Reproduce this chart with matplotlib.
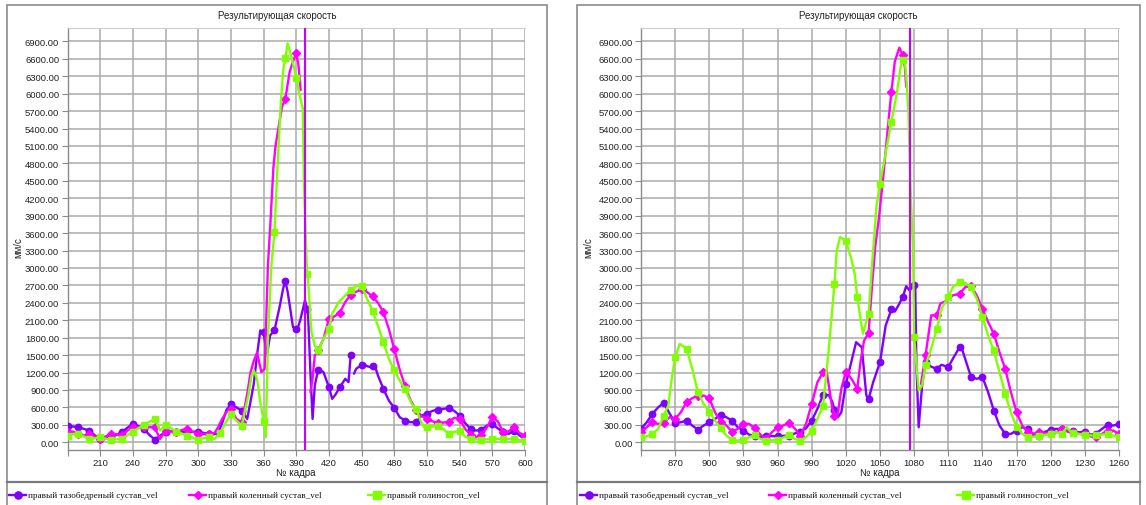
import numpy as np
import matplotlib
matplotlib.use("Agg")
import matplotlib.pyplot as plt
from matplotlib.lines import Line2D
from matplotlib.patches import Rectangle

nan = np.nan

# ---------------- data: left recording (frames 180..600) ----------------
left_hip_frames = [180, 185, 190, 195, 200, 205, 210, 215, 220, 225, 230, 235, 240, 245, 250, 255, 260, 265,
                   270, 275, 280, 285, 290, 295, 300, 305, 310, 315, 318, 322, 326, 330, 335, 340, 345, 348,
                   351, 354, 357, 360, 363, 366, 370, 375, 378, 380, 382, 384, 387, 390, 392, 394, 398, 400,
                   401, 403, 405, 407, 410, 413, 415, 420, 423, 426, 430, 435, 438, 440, 441, 443, 445, 450,
                   452, 455, 458, 460, 462, 465, 470, 475, 480, 485, 490, 495, 500, 505, 510, 515, 520, 525,
                   530, 535, 540, 545, 550, 555, 560, 565, 570, 575, 580, 585, 590, 595, 600]
left_hip_vel = [287, 270, 258, 230, 200, 120, 57, 70, 86, 130, 172, 250, 316, 280, 230, 130, 46, 110,
                184, 190, 184, 180, 172, 180, 184, 160, 143, 140, 150, 330, 560, 650, 600, 546, 402, 700,
                1006, 1500, 1925, 1896, 1494, 1839, 1925, 2356, 2650, 2770, 2600, 2356, 1982, 1954, 2000, 2126, 2442, 2300,
                2126, 1207, 402, 977, 1236, 1230, 1207, 948, 747, 820, 948, 1092, 1034, 1505, nan, 1180, 1264, 1330,
                1350, 1310, 1293, 1310, 1322, 1149, 919, 718, 590, 431, 374, 345, 345, 460, 489, 540, 563, 575,
                586, 540, 460, 330, 230, 201, 215, 287, 316, 240, 172, 144, 201, 115, 57]

left_knee_frames = [180, 185, 190, 195, 200, 205, 210, 215, 220, 225, 230, 235, 240, 245, 250, 255, 260, 265,
                    270, 275, 280, 285, 290, 295, 300, 305, 310, 315, 318, 322, 326, 330, 335, 340, 345, 348,
                    351, 354, 358, 361, 364, 366, 369, 371, 374, 377, 380, 382, 384, 387, 390, 392, 394, 395,
                    403, 405, 407, 410, 415, 420, 424, 430, 435, 440, 445, 450, 455, 460, 465, 470, 475, 480,
                    485, 490, 495, 500, 505, 510, 515, 520, 525, 530, 535, 540, 545, 550, 555, 560, 565, 570,
                    575, 580, 585, 590, 595, 600]
left_knee_vel = [172, 184, 150, 115, 143, 100, 57, 100, 143, 135, 126, 200, 258, 258, 258, 258, 258, 57,
                 201, 190, 184, 210, 230, 180, 143, 143, 143, 160, 250, 402, 520, 574, 402, 344, 832, 1200,
                 1400, 1540, 1207, 1264, 3046, 3677, 4723, 5100, 5450, 5780, 5907, 6150, 6378, 6550, 6694, 6493, 6062, nan,
                 860, 1100, 1494, 1580, 1781, 2126, 2155, 2230, 2413, 2540, 2590, 2632, 2586, 2510, 2400, 2241, 1950, 1600,
                 1250, 960, 720, 560, 450, 402, 360, 335, 340, 350, 420, 400, 230, 130, 90, 120, 258, 431,
                 360, 172, 190, 260, 160, 115]

left_ankle_frames = [180, 185, 190, 195, 200, 205, 210, 215, 220, 225, 230, 235, 240, 245, 250, 255, 260, 265,
                     270, 275, 280, 285, 290, 295, 300, 305, 310, 315, 320, 325, 330, 335, 340, 343, 346, 349,
                     351, 354, 357, 360, 362, 364, 367, 370, 373, 376, 378, 380, 382, 386, 390, 393, 396, 397,
                     399, 400, 401, 404, 407, 410, 415, 420, 423, 429, 435, 440, 445, 450, 455, 460, 465, 470,
                     475, 480, 485, 490, 496, 500, 504, 508, 510, 515, 520, 525, 530, 535, 540, 545, 550, 555,
                     560, 565, 570, 575, 580, 585, 590, 595, 600]
left_ankle_vel = [115, 143, 143, 100, 57, 70, 86, 60, 46, 50, 57, 120, 184, 240, 298, 350, 402, 201,
                  298, 240, 184, 150, 115, 80, 46, 70, 86, 57, 161, 330, 488, 373, 287, 550, 804, 1150,
                  1236, 1092, 690, 374, 86, 1781, 3000, 3620, 4826, 5889, 6400, 6608, 6866, 6608, 6274, 5976, 5746, 4500,
                  3400, 2900, 2747, 1896, 1666, 1580, 1781, 1954, 2212, 2413, 2528, 2615, 2689, 2689, 2471, 2260, 2000, 1724,
                  1437, 1236, 1063, 908, 661, 580, 374, 241, 255, 270, 287, 230, 140, 180, 190, 100, 57, 50,
                  46, 50, 57, 57, 57, 57, 57, 40, 29]

# ---------------- data: right recording (frames 840..1260) ----------------
right_hip_frames = [840, 845, 850, 855, 860, 865, 870, 875, 880, 885, 890, 895, 900, 905, 910, 915, 920, 925,
                    930, 935, 940, 945, 950, 955, 960, 965, 970, 975, 980, 985, 990, 995, 1000, 1005, 1008, 1010,
                    1013, 1016, 1020, 1024, 1029, 1034, 1038, 1040, 1044, 1050, 1055, 1060, 1063, 1066, 1070, 1073,
                    1076, 1080, 1081, 1082, 1084, 1087, 1090, 1095, 1100, 1104, 1110, 1114, 1120, 1122, 1130, 1135,
                    1140, 1145, 1150, 1155, 1160, 1165, 1170, 1175, 1180, 1185, 1190, 1195, 1200, 1205, 1210, 1215,
                    1220, 1225, 1230, 1235, 1240, 1245, 1250, 1255, 1260]
right_hip_vel = [230, 344, 488, 600, 677, 500, 333, 344, 373, 287, 218, 287, 344, 402, 476, 430, 373, 258,
                 201, 130, 115, 86, 115, 105, 103, 110, 115, 150, 184, 240, 373, 574, 815, 810, 700, 560,
                 430, 516, 1004, 1320, 1722, 1636, 804, 746, 1033, 1378, 2009, 2285, 2250, 2350, 2497, 2686,
                 2612, 2698, 2672, 1322, 258, 977, 1379, 1300, 1264, 1333, 1293, 1437, 1638, 1609, 1120, 1092,
                 1120, 862, 546, 287, 144, 144, 200, 258, 230, 115, 115, 180, 218, 230, 230, 201,
                 190, 172, 184, 130, 150, 230, 299, 287, 316]

right_knee_frames = [840, 845, 850, 855, 860, 865, 870, 875, 880, 885, 890, 895, 900, 905, 910, 915, 920, 925,
                     930, 935, 940, 945, 950, 955, 960, 965, 970, 975, 980, 985, 990, 995, 1000, 1003, 1008, 1010,
                     1013, 1016, 1020, 1025, 1030, 1033, 1036, 1040, 1043, 1046, 1049, 1053, 1056, 1060, 1063, 1067,
                     1070, 1072, 1073, 1074, 1086, 1090, 1095, 1100, 1103, 1109, 1114, 1120, 1125, 1130, 1135, 1140,
                     1145, 1150, 1155, 1160, 1165, 1170, 1175, 1180, 1185, 1190, 1195, 1200, 1205, 1210, 1215, 1220,
                     1225, 1230, 1235, 1240, 1245, 1250, 1255, 1260]
right_knee_vel = [184, 258, 344, 316, 333, 430, 402, 516, 689, 758, 804, 804, 758, 516, 356, 287, 184, 230,
                  316, 316, 241, 130, 57, 172, 258, 287, 333, 240, 115, 316, 660, 1033, 1205, 1234, 600, 459,
                  500, 918, 1217, 1090, 918, 1400, 1750, 1880, 2700, 3400, 3849, 4596, 5229, 6033, 6550, 6792,
                  6665, 6435, 6119, nan, 1005, 1494, 2184, 2184, 2385, 2442, 2528, 2557, 2672, 2689, 2528, 2299,
                  2069, 1867, 1551, 1264, 862, 517, 287, 172, 150, 172, 160, 155, 172, 230, 180, 172,
                  144, 144, 100, 86, 144, 201, 201, 144]

right_ankle_frames = [840, 845, 850, 855, 860, 864, 867, 870, 874, 877, 880, 885, 890, 895, 900, 905, 910, 915,
                      920, 925, 930, 935, 940, 945, 950, 955, 960, 965, 970, 975, 980, 985, 990, 995, 1000, 1005,
                      1010, 1012, 1015, 1020, 1025, 1028, 1030, 1034, 1035, 1040, 1043, 1047, 1050, 1053, 1060, 1065,
                      1068, 1070, 1072, 1073, 1075, 1076, 1077, 1079, 1080, 1084, 1087, 1090, 1094, 1100, 1104, 1110,
                      1114, 1120, 1125, 1130, 1135, 1140, 1145, 1150, 1155, 1160, 1165, 1170, 1175, 1180, 1188, 1190,
                      1200, 1205, 1210, 1214, 1218, 1220, 1230, 1237, 1240, 1250, 1260]
right_ankle_vel = [86, 100, 143, 230, 459, 631, 1090, 1463, 1693, 1650, 1607, 1262, 861, 660, 528, 373, 241, 115,
                   46, 29, 46, 86, 126, 57, 29, 35, 46, 80, 126, 57, 29, 86, 201, 402, 631, 1607,
                   2730, 3300, 3534, 3459, 3150, 2873, 2500, 1982, 1868, 2212, 3046, 4080, 4453, 4769, 5516, 6033,
                   6450, 6579, 6500, 6320, 5688, 4941, 4250, 3333, 1810, 891, 977, 1322, 1551, 1954, 2299, 2500,
                   2672, 2758, 2740, 2672, 2471, 2155, 1839, 1580, 1207, 833, 517, 259, 144, 86, 103, 110,
                   144, 172, 144, 258, 172, 160, 126, 115, 120, 144, 86]

# frame at which the vertical event marker is drawn on each recording
left_event_frame = 398
right_event_frame = 1076

series_names = ["правый тазобедреный сустав_vel", "правый коленный сустав_vel", "правый голиностоп_vel"]
series_colors = ["#7f00ff", "#ff00ff", "#80ff00"]
series_markers = ["o", "D", "s"]
series_msize = [4.6, 3.6, 4.8]

title_text = "Результирующая скорость"
xlabel_text = "№ кадра"
ylabel_text = "мм/с"

y_ticks = list(range(0, 7200, 300))

# ---------------- figure ----------------
W, H = 1146, 506
fig = plt.figure(figsize=(W / 100, H / 100), dpi=100)
fig.patch.set_facecolor("white")


def fx(px):
    return px / W


def fy(py):
    return 1 - py / H


FONT = ["Liberation Sans", "DejaVu Sans"]
SERIF = ["Liberation Serif", "DejaVu Serif"]
LW = 1.7


def panel(frame_l, frame_r, ax_l, ax_r, xlim, xticks, data, event_frame, legend_x):
    # outer frame of the panel and the separator above the legend
    fig.add_artist(Rectangle((fx(frame_l), fy(512)), fx(frame_r - frame_l), fy(6) - fy(512),
                             transform=fig.transFigure, fill=False, edgecolor="#8c8c8c", lw=1.2))
    fig.add_artist(Line2D([fx(frame_l), fx(frame_r)], [fy(483), fy(483)], transform=fig.transFigure,
                          color="#7a7a7a", lw=1.6))

    top, bottom = 29, 450.8
    ax = fig.add_axes([fx(ax_l), fy(bottom), fx(ax_r - ax_l), fy(top) - fy(bottom)])
    ax.set_xlim(*xlim)
    ax.set_ylim(-130, 7130)
    ax.set_xticks(xticks)
    ax.set_xticklabels(["" if t == xlim[0] else str(t) for t in xticks], fontsize=6.8, family=FONT)
    ax.set_yticks(y_ticks)
    ax.set_yticklabels([f"{v:.2f}" for v in y_ticks], fontsize=6.8, family=FONT)
    ax.tick_params(length=4, width=0.8, color="#8a8a8a", labelcolor="#222222", pad=2)
    ax.grid(True, color="#ababab", lw=1.1)
    ax.set_axisbelow(True)
    for s in ("left", "bottom"):
        ax.spines[s].set_color("#8a8a8a")
        ax.spines[s].set_linewidth(1.0)
    ax.spines["top"].set_color("#cccccc")
    ax.spines["right"].set_visible(False)

    for (frames, vals), color, mk, ms in zip(data, series_colors, series_markers, series_msize):
        f = np.asarray(frames, dtype=float)
        v = np.asarray(vals, dtype=float)
        marks = np.where((f % 10 == 0) & ~np.isnan(v))[0]
        ax.plot(f, v, color=color, lw=LW, marker=mk, ms=ms, markevery=list(marks),
                markeredgecolor=color, solid_joinstyle="round", solid_capstyle="round", zorder=3)

    ax.axvline(event_frame, color="#c800ff", lw=1.5, zorder=5)

    cx = (frame_l + frame_r) / 2
    fig.text(fx(cx), fy(16), title_text, ha="center", va="center", fontsize=7, family=FONT, color="#222222")
    fig.text(fx((ax_l + ax_r) / 2), fy(473), xlabel_text, ha="center", va="center", fontsize=7,
             family=FONT, color="#222222")
    fig.text(fx(frame_l + 11), fy(248), ylabel_text, ha="center", va="center", rotation=90, fontsize=7,
             family=FONT, color="#222222")

    for lx, name, color, mk, ms in zip(legend_x, series_names, series_colors, series_markers, series_msize):
        fig.add_artist(Line2D([fx(lx), fx(lx + 17)], [fy(496), fy(496)], transform=fig.transFigure,
                              color=color, lw=LW))
        fig.add_artist(Line2D([fx(lx + 8.5)], [fy(496)], transform=fig.transFigure, color=color,
                              marker=mk, ms=ms + 0.6, ls="none"))
        fig.text(fx(lx + 19), fy(496), name, ha="left", va="center", fontsize=6.6, family=SERIF,
                 color="#111111")


panel(7, 547, 67.5, 525, (180, 600), list(range(180, 601, 30)),
      [(left_hip_frames, left_hip_vel), (left_knee_frames, left_knee_vel),
       (left_ankle_frames, left_ankle_vel)], left_event_frame, [9, 189, 368])

panel(577, 1140, 641, 1119, (840, 1260), list(range(840, 1261, 30)),
      [(right_hip_frames, right_hip_vel), (right_knee_frames, right_knee_vel),
       (right_ankle_frames, right_ankle_vel)], right_event_frame, [580, 769, 957])

fig.savefig("out.png", dpi=100, facecolor="white")
